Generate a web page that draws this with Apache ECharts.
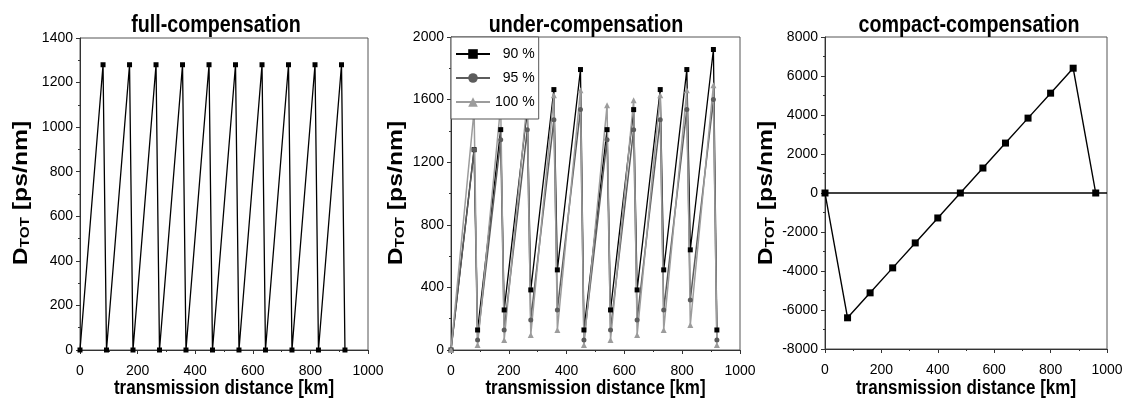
<!DOCTYPE html>
<html>
<head>
<meta charset="utf-8">
<script src="https://cdn.jsdelivr.net/npm/echarts@6/dist/echarts.min.js"></script>
<style>
  html, body { margin: 0; padding: 0; background: #fff; }
  #main { width: 1124px; height: 401px; }
</style>
</head>
<body>
<div id="main"></div>
<script>
// span positions (km): 80 km fibre + 12 km DCF per span
var spanX = [0, 80, 92, 172, 184, 264, 276, 356, 368, 448, 460, 540, 552, 632, 644, 724, 736, 816, 828, 908, 920];
var fullY = [0, 1280, 0, 1280, 0, 1280, 0, 1280, 0, 1280, 0, 1280, 0, 1280, 0, 1280, 0, 1280, 0, 1280, 0];

var under90  = [0, 1280, 128, 1408, 256, 1536, 384, 1664, 512, 1792, 128, 1408, 256, 1536, 384, 1664, 512, 1792, 640, 1920, 128];
var under95  = [0, 1280, 64, 1344, 128, 1408, 192, 1472, 256, 1536, 64, 1344, 128, 1408, 192, 1472, 256, 1536, 320, 1600, 64];
var under100 = [0, 1532, 32, 1564, 64, 1596, 96, 1628, 128, 1660, 32, 1564, 64, 1596, 96, 1628, 128, 1660, 160, 1692, 32];
var underNames = ['90 %', '95 %', '100 %'];

var compactX = [0, 80, 160, 240, 320, 400, 480, 560, 640, 720, 800, 880, 960];
var compactY = [0, -6400, -5120, -3840, -2560, -1280, 0, 1280, 2560, 3840, 5120, 6400, 0];

var titles = ['full-compensation', 'under-compensation', 'compact-compensation'];
var xName = 'transmission distance [km]';

var font = "'Liberation Sans', Arial, sans-serif";

function zip(xs, ys) {
  return xs.map(function (x, i) { return [x, ys[i]]; });
}

var grids = [
  { left: 80, top: 38, width: 288, height: 312 },
  { left: 451, top: 37, width: 289, height: 313 },
  { left: 825, top: 37, width: 282, height: 312 }
];
var titleX = [216, 586, 969];
var yNameX = [21, 396, 766];
var yRange = [[0, 1400, 200], [0, 2000, 400], [-8000, 8000, 2000]];

var axisCol = '#333';

function xAxisOf(i) {
  return {
    type: 'value', gridIndex: i, min: 0, max: 1000, interval: 200,
    axisLine: { show: true, onZero: false, lineStyle: { color: axisCol, width: 1 } },
    axisTick: { show: true, length: 4, lineStyle: { color: axisCol } },
    minorTick: { show: true, splitNumber: 2, length: 2, lineStyle: { color: axisCol } },
    axisLabel: { fontFamily: font, fontSize: 14, color: '#000', margin: 14, formatter: function (v) { return String(v); } },
    splitLine: { show: false }, minorSplitLine: { show: false }
  };
}

function yAxisOf(i) {
  return {
    type: 'value', gridIndex: i, min: yRange[i][0], max: yRange[i][1], interval: yRange[i][2],
    axisLine: { show: true, onZero: false, lineStyle: { color: axisCol, width: 1 } },
    axisTick: { show: true, length: 4, lineStyle: { color: axisCol } },
    minorTick: { show: true, splitNumber: 2, length: 2, lineStyle: { color: axisCol } },
    axisLabel: { fontFamily: font, fontSize: 14, color: '#000', margin: 7, formatter: function (v) { return String(v); } },
    splitLine: { show: false }, minorSplitLine: { show: false }
  };
}

function lineSeries(name, i, data, color, symbol, size, width) {
  return {
    name: name, type: 'line', xAxisIndex: i, yAxisIndex: i,
    data: data, symbol: symbol, symbolSize: size, showAllSymbol: true,
    clip: false, animation: false,
    lineStyle: { color: color, width: width },
    itemStyle: { color: color }
  };
}

var chart = echarts.init(document.getElementById('main'), null, { renderer: 'canvas' });

var texts = [];
// panel titles (condensed look of the original)
titles.forEach(function (t, i) {
  texts.push({
    type: 'text', x: titleX[i], y: 25, scaleX: 0.82, z: 100,
    style: { text: t, textAlign: 'center', textVerticalAlign: 'middle',
      font: 'bold 24px ' + font, fill: '#000' }
  });
});
// x axis names
grids.forEach(function (g) {
  texts.push({
    type: 'text', x: g.left + g.width / 2, y: 388, scaleX: 0.85, z: 100,
    style: { text: xName, textAlign: 'center', textVerticalAlign: 'middle',
      font: 'bold 20px ' + font, fill: '#000' }
  });
});
// y axis names with subscript
yNameX.forEach(function (x) {
  texts.push({
    type: 'text', x: x, y: 193, rotation: Math.PI / 2, scaleX: 1.18, z: 100,
    style: {
      text: '{d|D}{s|TOT}{d| [ps/nm]}',
      textAlign: 'center', textVerticalAlign: 'middle',
      rich: {
        d: { fontFamily: font, fontWeight: 'bold', fontSize: 21, lineHeight: 22, fill: '#000' },
        s: { fontFamily: font, fontWeight: 'bold', fontSize: 13, lineHeight: 14, verticalAlign: 'bottom', fill: '#000' }
      }
    }
  });
});

var option = {
  backgroundColor: '#fff',
  animation: false,
  grid: grids.map(function (g) {
    return Object.assign({ show: true, borderColor: '#555', borderWidth: 1, backgroundColor: 'transparent', outerBoundsMode: 'none' }, g);
  }),
  xAxis: [xAxisOf(0), xAxisOf(1), xAxisOf(2)],
  yAxis: [yAxisOf(0), yAxisOf(1), yAxisOf(2)],
  legend: {
    data: underNames, left: 451, top: 37, orient: 'vertical',
    padding: [10, 4, 10, 4], itemGap: 10, itemWidth: 34, itemHeight: 12,
    backgroundColor: '#fff', borderColor: '#555', borderWidth: 1, borderRadius: 0,
    textStyle: { fontFamily: font, fontSize: 14, color: '#000' },
    formatter: function (n) { return n.length < 5 ? '\u2007' + n : n; }
  },
  graphic: texts,
  series: [
    lineSeries('full', 0, zip(spanX, fullY), '#000', 'rect', 5, 1.3),
    lineSeries(underNames[0], 1, zip(spanX, under90), '#000', 'rect', 5, 1.3),
    lineSeries(underNames[1], 1, zip(spanX, under95), '#5c5c5c', 'circle', 5, 1.5),
    lineSeries(underNames[2], 1, zip(spanX, under100), '#9c9c9c', 'triangle', 6, 1.5),
    Object.assign(lineSeries('compact', 2, zip(compactX, compactY), '#000', 'rect', 7, 1.4), {
      markLine: {
        silent: true, symbol: ['none', 'none'], animation: false,
        label: { show: false },
        lineStyle: { color: '#000', width: 1.5, type: 'solid' },
        data: [{ yAxis: 0 }]
      }
    })
  ]
};

chart.setOption(option);
</script>
</body>
</html>
